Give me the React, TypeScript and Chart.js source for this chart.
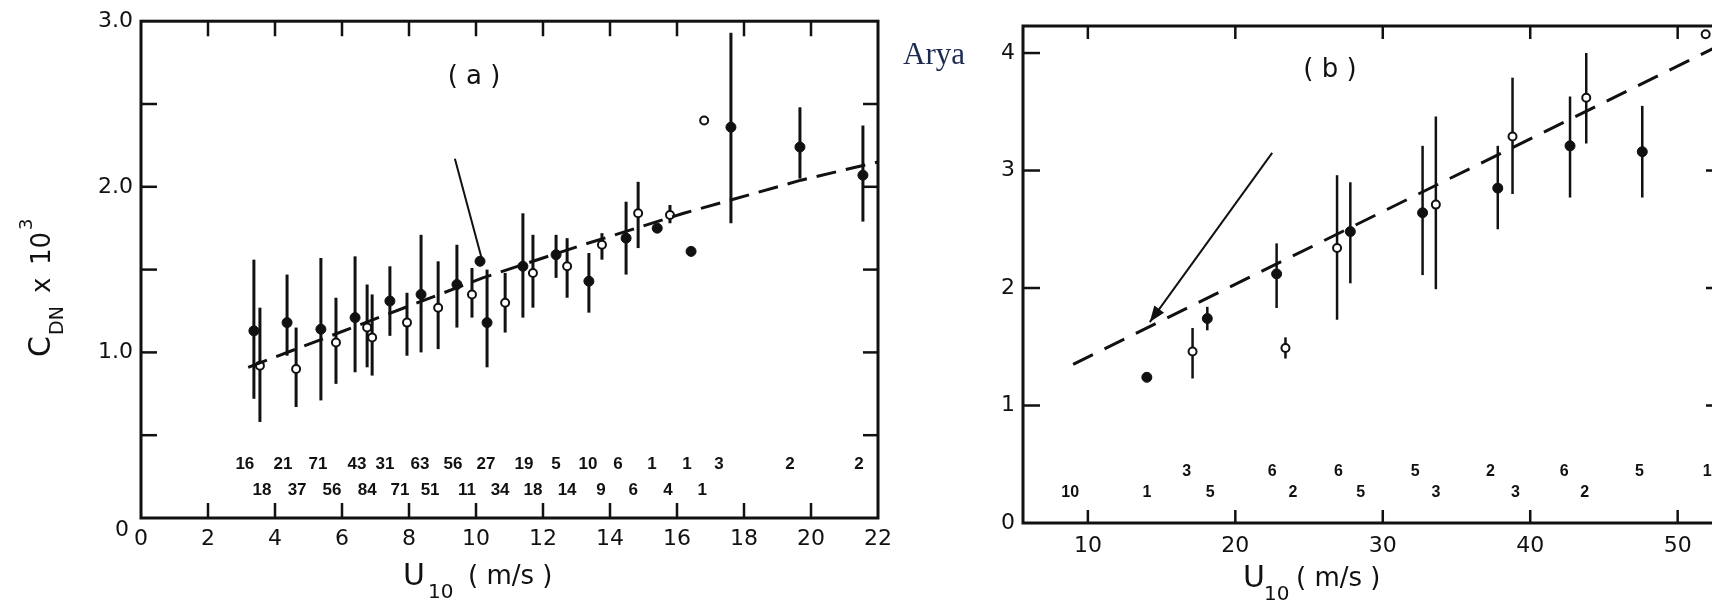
import React, { useEffect, useRef } from "react";
import { Chart, registerables } from "chart.js";
Chart.register(...registerables);

// ---------- Panel (a) data ----------
const aFilledU = [3.37, 4.36, 5.37, 6.39, 7.43, 8.36, 9.43, 10.12, 10.33, 11.4, 12.39, 13.37, 14.48, 15.41, 16.42, 17.61, 19.67, 21.55];
const aFilledC = [1.13, 1.18, 1.14, 1.21, 1.31, 1.35, 1.41, 1.55, 1.18, 1.52, 1.59, 1.43, 1.69, 1.75, 1.61, 2.36, 2.24, 2.07];
const aFilledHi = [1.56, 1.47, 1.57, 1.58, 1.52, 1.71, 1.65, null, 1.5, 1.84, 1.71, 1.6, 1.91, null, null, 2.93, 2.48, 2.37];
const aFilledLo = [0.72, 0.98, 0.71, 0.88, 1.1, 1.0, 1.15, null, 0.91, 1.21, 1.45, 1.24, 1.47, null, null, 1.78, 2.05, 1.79];

const aOpenU = [3.55, 4.63, 5.82, 6.75, 6.9, 7.94, 8.87, 9.88, 10.87, 11.7, 12.72, 13.76, 14.84, 15.79, 16.81];
const aOpenC = [0.92, 0.9, 1.06, 1.15, 1.09, 1.18, 1.27, 1.35, 1.3, 1.48, 1.52, 1.65, 1.84, 1.83, 2.4];
const aOpenHi = [1.27, 1.15, 1.33, 1.41, 1.35, 1.36, 1.55, 1.51, 1.48, 1.71, 1.69, 1.72, 2.03, 1.89, null];
const aOpenLo = [0.58, 0.67, 0.81, 0.91, 0.86, 0.98, 1.02, 1.21, 1.12, 1.27, 1.33, 1.56, 1.63, 1.78, null];

const aFitU = [3.2, 10.2, 13.2, 16.2, 19.7, 22];
const aFitC = [0.91, 1.45, 1.65, 1.84, 2.04, 2.15];

const aArrowU = [9.37, 10.18];
const aArrowC = [2.17, 1.56];

const aCount1 = ["16", "21", "71", "43", "31", "63", "56", "27", "19", "5", "10", "6", "1", "1", "3", "2", "2"];
const aCount1U = [3.1, 4.24, 5.28, 6.45, 7.28, 8.33, 9.31, 10.3, 11.43, 12.39, 13.34, 14.24, 15.25, 16.3, 17.25, 19.37, 21.43];
const aCount2 = ["18", "37", "56", "84", "71", "51", "11", "34", "18", "14", "9", "6", "4", "1"];
const aCount2U = [3.61, 4.66, 5.7, 6.75, 7.73, 8.63, 9.73, 10.72, 11.7, 12.72, 13.73, 14.69, 15.73, 16.75];

const aXLabels = [0, 2, 4, 6, 8, 10, 12, 14, 16, 18, 20, 22];
const aYLabels = [0, 1, 2, 3];
const aXMinor = [2, 4, 6, 8, 10, 12, 14, 16, 18, 20];
const aYMinor = [0.5, 1, 1.5, 2, 2.5];

// ---------- Panel (b) data ----------
const bFilledU = [14.0, 18.1, 22.8, 27.8, 32.7, 37.8, 42.7, 47.6];
const bFilledC = [1.24, 1.74, 2.12, 2.48, 2.64, 2.85, 3.21, 3.16];
const bFilledHi = [null, 1.84, 2.38, 2.9, 3.21, 3.21, 3.63, 3.55];
const bFilledLo = [null, 1.64, 1.83, 2.04, 2.11, 2.5, 2.77, 2.77];

const bOpenU = [17.1, 23.4, 26.9, 33.6, 38.8, 43.8, 51.9];
const bOpenC = [1.46, 1.49, 2.34, 2.71, 3.29, 3.62, 4.16];
const bOpenHi = [1.66, 1.58, 2.96, 3.46, 3.79, 4.0, null];
const bOpenLo = [1.23, 1.4, 1.73, 1.99, 2.8, 3.23, null];

const bFitU = [9.0, 52.6];
const bFitC = [1.35, 4.05];

const bArrowU = [22.5, 14.2];
const bArrowC = [3.15, 1.71];

const bCount1 = ["3", "6", "6", "5", "2", "6", "5", "1"];
const bCount1U = [16.7, 22.5, 27.0, 32.2, 37.3, 42.3, 47.4, 52.0];
const bCount2 = ["10", "1", "5", "2", "5", "3", "3", "2"];
const bCount2U = [8.8, 14.0, 18.3, 23.9, 28.5, 33.6, 39.0, 43.7];

const bXLabels = [10, 20, 30, 40, 50];
const bYLabels = [0, 1, 2, 3, 4];
const bXMinor = [10, 20, 30, 40, 50];
const bYMinor = [1, 2, 3, 4];
const bYMinorRight = [1, 2, 3];

const INK = "#111";
const TICK_FONT = "'DejaVu Sans', sans-serif";
const COUNT_FONT = "'Liberation Sans', Arial, sans-serif";

const pts = (u: number[], c: number[]) => u.map((x, i) => ({ x, y: c[i] }));

const figurePlugin = {
  id: "figure",
  beforeDatasetsDraw(chart: any, _a: any, opts: any) {
    const ctx = chart.ctx;
    const xs = chart.scales.x;
    const ys = chart.scales.y;
    ctx.save();
    ctx.strokeStyle = INK;
    ctx.lineWidth = opts.barWidth || 2.5;
    chart.data.datasets.forEach((ds: any) => {
      if (!ds.errLo) return;
      ds.data.forEach((p: any, i: number) => {
        const lo = ds.errLo[i];
        const hi = ds.errHi[i];
        if (lo == null || hi == null) return;
        const x = xs.getPixelForValue(p.x);
        ctx.beginPath();
        ctx.moveTo(x, ys.getPixelForValue(lo));
        ctx.lineTo(x, ys.getPixelForValue(hi));
        ctx.stroke();
      });
    });
    if (opts.arrow) {
      const a = opts.arrow;
      const x0 = xs.getPixelForValue(a.u[0]);
      const y0 = ys.getPixelForValue(a.c[0]);
      const x1 = xs.getPixelForValue(a.u[1]);
      const y1 = ys.getPixelForValue(a.c[1]);
      ctx.lineWidth = 2;
      ctx.beginPath();
      ctx.moveTo(x0, y0);
      ctx.lineTo(x1, y1);
      ctx.stroke();
      if (a.head) {
        const ang = Math.atan2(y1 - y0, x1 - x0);
        const L = 16;
        const W = 6;
        ctx.fillStyle = INK;
        ctx.beginPath();
        ctx.moveTo(x1, y1);
        ctx.lineTo(x1 - L * Math.cos(ang) + W * Math.sin(ang), y1 - L * Math.sin(ang) - W * Math.cos(ang));
        ctx.lineTo(x1 - L * Math.cos(ang) - W * Math.sin(ang), y1 - L * Math.sin(ang) + W * Math.cos(ang));
        ctx.closePath();
        ctx.fill();
      }
    }
    ctx.restore();
  },
  afterDraw(chart: any, _a: any, opts: any) {
    const ctx = chart.ctx;
    const xs = chart.scales.x;
    const ys = chart.scales.y;
    const { left, right, top, bottom } = chart.chartArea;
    ctx.save();
    ctx.strokeStyle = INK;
    ctx.fillStyle = INK;
    ctx.lineWidth = 3;
    ctx.strokeRect(left, top, right - left, bottom - top);
    ctx.lineWidth = 2.5;
    opts.xMinor.forEach((v: number) => {
      const x = xs.getPixelForValue(v);
      ctx.beginPath();
      ctx.moveTo(x, bottom);
      ctx.lineTo(x, bottom - opts.xTickLen);
      ctx.moveTo(x, top);
      ctx.lineTo(x, top + opts.xTickLen);
      ctx.stroke();
    });
    opts.yMinor.forEach((v: number) => {
      const y = ys.getPixelForValue(v);
      ctx.beginPath();
      ctx.moveTo(left, y);
      ctx.lineTo(left + opts.yTickLen, y);
      ctx.stroke();
    });
    opts.yMinorRight.forEach((v: number) => {
      const y = ys.getPixelForValue(v);
      ctx.beginPath();
      ctx.moveTo(right, y);
      ctx.lineTo(right - opts.yTickLenRight, y);
      ctx.stroke();
    });
    ctx.font = `bold ${opts.countSize}px ${COUNT_FONT}`;
    ctx.textAlign = "center";
    ctx.textBaseline = "middle";
    opts.counts.forEach((row: any) => {
      const y = ys.getPixelForValue(row.c);
      row.labels.forEach((t: string, i: number) => {
        ctx.fillText(t, xs.getPixelForValue(row.u[i]), y);
      });
    });
    ctx.textBaseline = "alphabetic";
    ctx.textAlign = "left";
    opts.texts.forEach((t: any) => {
      ctx.save();
      ctx.font = t.font;
      ctx.fillStyle = t.color || INK;
      ctx.textAlign = t.align || "left";
      ctx.fillText(t.text, t.x, t.y);
      ctx.restore();
    });
    if (opts.yTitle) {
      const yt = opts.yTitle;
      ctx.save();
      ctx.translate(yt.x, yt.y);
      ctx.rotate(-Math.PI / 2);
      yt.parts.forEach((p: any) => {
        ctx.font = p.font;
        ctx.fillText(p.text, p.dx, p.dy);
      });
      ctx.restore();
    }
    ctx.restore();
  },
};

function makeConfig(p: any) {
  return {
    type: "scatter",
    data: {
      datasets: [
        {
          type: "line",
          data: pts(p.fitU, p.fitC),
          borderColor: INK,
          borderWidth: 3,
          borderDash: p.dash,
          pointRadius: 0,
          fill: false,
          tension: 0,
          clip: false,
        },
        {
          data: pts(p.fU, p.fC),
          errLo: p.fLo,
          errHi: p.fHi,
          pointRadius: 5,
          pointBackgroundColor: INK,
          pointBorderColor: INK,
          pointBorderWidth: 1,
          clip: false,
        },
        {
          data: pts(p.oU, p.oC),
          errLo: p.oLo,
          errHi: p.oHi,
          pointRadius: 4,
          pointBackgroundColor: "#fff",
          pointBorderColor: INK,
          pointBorderWidth: 2,
          clip: false,
        },
      ],
    },
    options: {
      animation: false,
      responsive: false,
      events: [],
      layout: { padding: { top: p.padTop, right: p.padRight, left: 0, bottom: 0 } },
      plugins: {
        legend: { display: false },
        tooltip: { enabled: false },
        figure: p.figure,
      },
      scales: {
        x: {
          type: "linear",
          min: p.xMin,
          max: p.xMax,
          afterBuildTicks: (s: any) => {
            s.ticks = p.xLabels.map((v: number) => ({ value: v }));
          },
          afterFit: (s: any) => {
            s.height = p.xAxisH;
          },
          grid: { display: false, drawTicks: false },
          border: { display: false },
          ticks: {
            autoSkip: false,
            maxRotation: 0,
            padding: p.xPad,
            color: INK,
            font: { family: TICK_FONT, size: 22 },
            callback: (v: number) => String(v),
          },
        },
        y: {
          type: "linear",
          min: p.yMin,
          max: p.yMax,
          afterBuildTicks: (s: any) => {
            s.ticks = p.yLabels.map((v: number) => ({ value: v }));
          },
          afterFit: (s: any) => {
            s.width = p.yAxisW;
          },
          grid: { display: false, drawTicks: false },
          border: { display: false },
          ticks: {
            autoSkip: false,
            padding: 8,
            color: INK,
            font: { family: TICK_FONT, size: 22 },
            callback: p.yFmt,
          },
        },
      },
    },
    plugins: [figurePlugin],
  };
}

export default function App() {
  const refA = useRef<HTMLCanvasElement>(null);
  const refB = useRef<HTMLCanvasElement>(null);

  useEffect(() => {
    const cfgA = makeConfig({
      fitU: aFitU, fitC: aFitC, dash: [20, 10],
      fU: aFilledU, fC: aFilledC, fLo: aFilledLo, fHi: aFilledHi,
      oU: aOpenU, oC: aOpenC, oLo: aOpenLo, oHi: aOpenHi,
      padTop: 20, padRight: 22, xMin: 0, xMax: 22, yMin: 0, yMax: 3,
      xLabels: aXLabels, yLabels: aYLabels, xAxisH: 84, yAxisW: 141, xPad: 8,
      yFmt: (v: number) => (v === 0 ? "" : v.toFixed(1)),
      figure: {
        barWidth: 3,
        arrow: { u: aArrowU, c: aArrowC, head: false },
        xMinor: aXMinor, yMinor: aYMinor, yMinorRight: aYMinor,
        xTickLen: 15, yTickLen: 16, yTickLenRight: 15,
        countSize: 17,
        counts: [
          { labels: aCount1, u: aCount1U, c: 0.326 },
          { labels: aCount2, u: aCount2U, c: 0.169 },
        ],
        texts: [
          { text: "0", x: 122, y: 536, font: `22px ${TICK_FONT}`, align: "center" },
          { text: "U", x: 403, y: 585, font: `30px ${TICK_FONT}` },
          { text: "10", x: 428, y: 598, font: `20px ${TICK_FONT}` },
          { text: "( m/s )", x: 468, y: 584, font: `26px ${TICK_FONT}` },
          { text: "( a )", x: 474, y: 84, font: `26px ${TICK_FONT}`, align: "center" },
        ],
        yTitle: {
          x: 50,
          y: 357,
          parts: [
            { text: "C", dx: 0, dy: 0, font: `30px ${TICK_FONT}` },
            { text: "DN", dx: 22, dy: 13, font: `19px ${TICK_FONT}` },
            { text: "x", dx: 64, dy: 0, font: `26px ${TICK_FONT}` },
            { text: "10", dx: 92, dy: 0, font: `26px ${TICK_FONT}` },
            { text: "3", dx: 127, dy: -18, font: `18px ${TICK_FONT}` },
          ],
        },
      },
    });
    const cfgB = makeConfig({
      fitU: bFitU, fitC: bFitC, dash: [22, 13],
      fU: bFilledU, fC: bFilledC, fLo: bFilledLo, fHi: bFilledHi,
      oU: bOpenU, oC: bOpenC, oLo: bOpenLo, oHi: bOpenHi,
      padTop: 26, padRight: 14, xMin: 5.6, xMax: 52.6, yMin: 0, yMax: 4.23,
      xLabels: bXLabels, yLabels: bYLabels, xAxisH: 79, yAxisW: 123, xPad: 10,
      yFmt: (v: number) => String(v),
      figure: {
        barWidth: 2.5,
        arrow: { u: bArrowU, c: bArrowC, head: true },
        xMinor: bXMinor, yMinor: bYMinor, yMinorRight: bYMinorRight,
        xTickLen: 13, yTickLen: 17, yTickLenRight: 10,
        countSize: 16,
        counts: [
          { labels: bCount1, u: bCount1U, c: 0.434 },
          { labels: bCount2, u: bCount2U, c: 0.255 },
        ],
        texts: [
          { text: "Arya", x: 3, y: 64, font: `31px 'Liberation Serif', 'DejaVu Serif', serif`, color: "#1c2a50" },
          { text: "U", x: 343, y: 587, font: `30px ${TICK_FONT}` },
          { text: "10", x: 364, y: 600, font: `20px ${TICK_FONT}` },
          { text: "( m/s )", x: 396, y: 586, font: `26px ${TICK_FONT}` },
          { text: "( b )", x: 430, y: 77, font: `26px ${TICK_FONT}`, align: "center" },
        ],
      },
    });
    const chA = new Chart(refA.current as HTMLCanvasElement, cfgA as any);
    const chB = new Chart(refB.current as HTMLCanvasElement, cfgB as any);
    return () => {
      chA.destroy();
      chB.destroy();
    };
  }, []);

  return (
    <div style={{ position: "fixed", left: 0, top: 0, width: 1712, height: 602, overflow: "hidden", background: "#fff" }}>
      <canvas ref={refA} width={900} height={602} style={{ position: "absolute", left: 0, top: 0 }} />
      <canvas ref={refB} width={830} height={602} style={{ position: "absolute", left: 900, top: 0 }} />
    </div>
  );
}
